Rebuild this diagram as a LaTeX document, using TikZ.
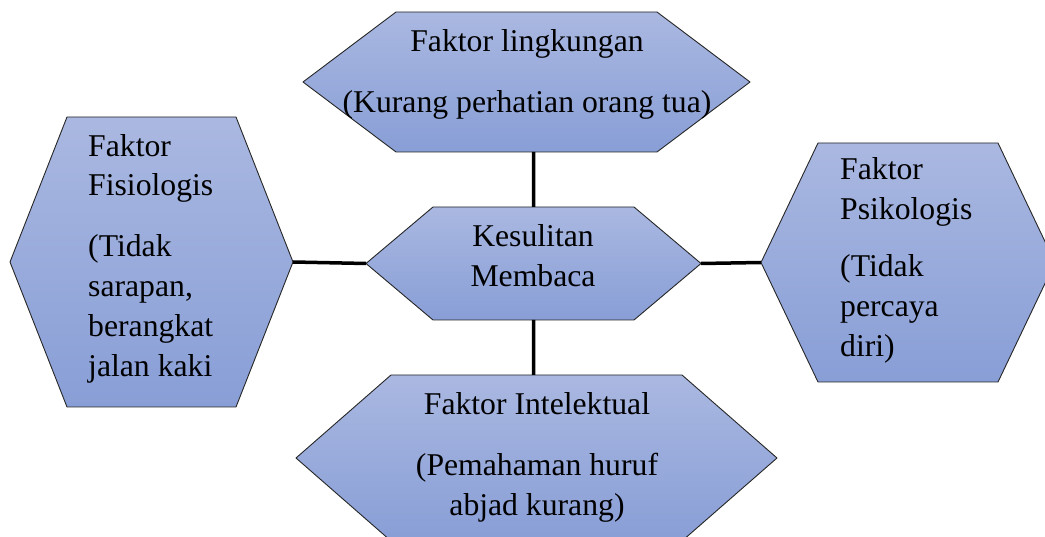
\documentclass[tikz,border=0pt]{standalone}
\usepackage{fontspec}
\setmainfont{Liberation Serif}
\definecolor{hexTop}{RGB}{170,184,225}
\definecolor{hexBot}{RGB}{136,158,214}
\begin{document}
\begin{tikzpicture}[x=1pt, y=-1pt, line join=round,
	hexa/.style={top color=hexTop, bottom color=hexBot, draw=black!85, line width=0.9pt},
	label/.style={font=\fontsize{31.7}{40}\selectfont, inner sep=0pt},
	link/.style={line width=3.5pt, line cap=butt}]
	\useasboundingbox (0,0) rectangle (1045,537);
	\clip (0,0) rectangle (1045,537);
	% hexagons: name/left/right/top/bottom/inset
	\foreach \n/\l/\r/\t/\b/\i in {top/303/750/12/152/93, mid/366/701/207/320/67, lft/10/293/117/407/57, rgt/761/1055/143/382/57, bot/296/777/375/541/95}
	{
		\shade[hexa] ({\l},{(\t+\b)/2}) coordinate (\n-w) -- ({\l+\i},\t) -- ({\r-\i},\t) -- ({\r},{(\t+\b)/2}) coordinate (\n-e) -- ({\r-\i},\b) -- ({\l+\i},\b) -- cycle;
		\path ({(\l+\r)/2},\t) coordinate (\n-n) ({(\l+\r)/2},\b) coordinate (\n-s);
	}
	% connectors
	\draw[link] (mid-n) -- (mid-n |- top-s) (mid-s) -- (mid-s |- bot-n) (lft-e) -- (mid-w) (mid-e) -- (rgt-w);
	% texts (anchored at the baseline of the last line)
	\node[label, anchor=base, align=center] (toptext) at (527,113) {Faktor lingkungan\\[21pt](Kurang perhatian orang tua)};
	\node[label, anchor=base, align=center] (midtext) at (533,287) {Kesulitan\\Membaca};
	\node[label, anchor=base, align=center] (bottext) at (537,515) {Faktor Intelektual\\[21pt](Pemahaman huruf\\abjad kurang)};
	\node[label, anchor=base west, align=left] (lfttext) at (88,377) {Faktor\\Fisiologis\\[21pt](Tidak\\sarapan,\\berangkat\\jalan kaki};
	\node[label, anchor=base west, align=left] (rgttext) at (840,357) {Faktor\\Psikologis\\[18pt](Tidak\\percaya\\diri)};
\end{tikzpicture}
\end{document}
